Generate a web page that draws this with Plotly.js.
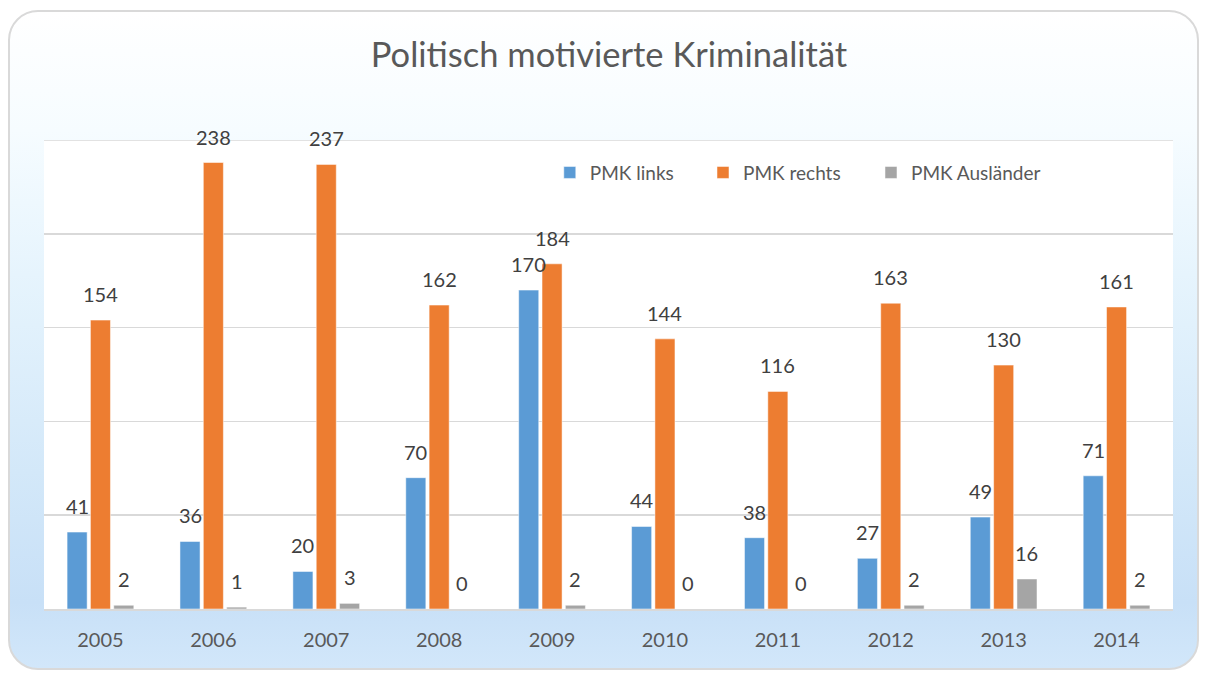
<!DOCTYPE html>
<html>
<head>
<meta charset="utf-8">
<script src="https://cdn.plot.ly/plotly-3.0.1.min.js"></script>
<style>
  html, body { margin: 0; padding: 0; width: 1206px; height: 674px; overflow: hidden; background: #ffffff; }
  #frame {
    position: absolute; left: 8px; top: 10px; width: 1191px; height: 660px;
    box-sizing: border-box; border: 2px solid #d9d9d9; border-radius: 30px;
    background: linear-gradient(to bottom, #ffffff 0%, #f6fcff 18%, #e6f4fd 40%, #d3e8f9 70%, #c8e0f7 90%, #d2e7fa 100%);
  }
  #chart { position: absolute; left: 0; top: 0; width: 1206px; height: 674px; }
</style>
</head>
<body>
<div id="frame"></div>
<div id="chart"></div>
<script>
const years = ["2005","2006","2007","2008","2009","2010","2011","2012","2013","2014"];
const pmkLinks = [41, 36, 20, 70, 170, 44, 38, 27, 49, 71];
const pmkRechts = [154, 238, 237, 162, 184, 144, 116, 163, 130, 161];
const pmkAuslaender = [2, 1, 3, 0, 2, 0, 0, 2, 16, 2];
const seriesNames = ["PMK links", "PMK rechts", "PMK Ausländer"];
const seriesColors = ["#5b9bd5", "#ed7d31", "#a5a5a5"];
const seriesValues = [pmkLinks, pmkRechts, pmkAuslaender];

const W = 1206, H = 674;
const margin = {l: 44, r: 33, t: 140, b: 65};
const bargap = 0.38, bargroupgap = 0.14;
const legendIds = ["legend", "legend2", "legend3"];
const legendX = [0.448, 0.5837, 0.7325];

const traces = seriesValues.map((vals, i) => ({
  type: "bar",
  name: seriesNames[i],
  x: years,
  y: vals,
  legend: legendIds[i],
  marker: {color: seriesColors[i], line: {color: "rgba(255,255,255,0.5)", width: 1}},
  hoverinfo: "none"
}));

const plotW = W - margin.l - margin.r;
const step = plotW / years.length;
const slot = step * (1 - bargap) / seriesValues.length;

const annotations = [];
seriesValues.forEach((vals, i) => {
  vals.forEach((v, j) => {
    annotations.push({
      x: j, y: v, xref: "x", yref: "y",
      text: String(v), showarrow: false,
      xanchor: "center", yanchor: "bottom",
      xshift: (i - 1) * slot, yshift: 12,
      font: {family: "Lato, sans-serif", size: 20, color: "#404040"}
    });
  });
});

const layout = {
  width: W, height: H,
  margin: margin,
  paper_bgcolor: "rgba(0,0,0,0)",
  plot_bgcolor: "#ffffff",
  barmode: "group",
  bargap: bargap,
  bargroupgap: bargroupgap,
  title: {
    text: "Politisch motivierte Kriminalität",
    x: 0.505, xanchor: "center",
    y: 0.918, yanchor: "middle",
    font: {family: "Lato, sans-serif", size: 34.5, color: "#595959"}
  },
  showlegend: true,
  xaxis: {
    type: "category",
    range: [-0.5, years.length - 0.5],
    autorange: false,
    showgrid: false,
    showline: true, linecolor: "#d9d9d9", linewidth: 2,
    ticks: "outside", ticklen: 12, tickcolor: "rgba(0,0,0,0)",
    tickfont: {family: "Lato, sans-serif", size: 20, color: "#595959"}
  },
  yaxis: {
    range: [0, 250], autorange: false, dtick: 50, tick0: 0,
    showgrid: true, gridcolor: "#d9d9d9", gridwidth: 1.5,
    showticklabels: false, zeroline: false, showline: false
  },
  shapes: [{
    type: "line", xref: "paper", yref: "y", x0: 0, x1: 1, y0: 250, y1: 250,
    line: {color: "#d9d9d9", width: 1.5}, layer: "below"
  }],
  annotations: annotations
};

legendIds.forEach((id, i) => {
  layout[id] = {
    orientation: "h",
    x: legendX[i], xanchor: "left",
    y: 0.971, yanchor: "top",
    bgcolor: "rgba(0,0,0,0)",
    font: {family: "Lato, sans-serif", size: 19, color: "#595959"}
  };
});

Plotly.newPlot("chart", traces, layout, {displayModeBar: false, staticPlot: true});
</script>
</body>
</html>
